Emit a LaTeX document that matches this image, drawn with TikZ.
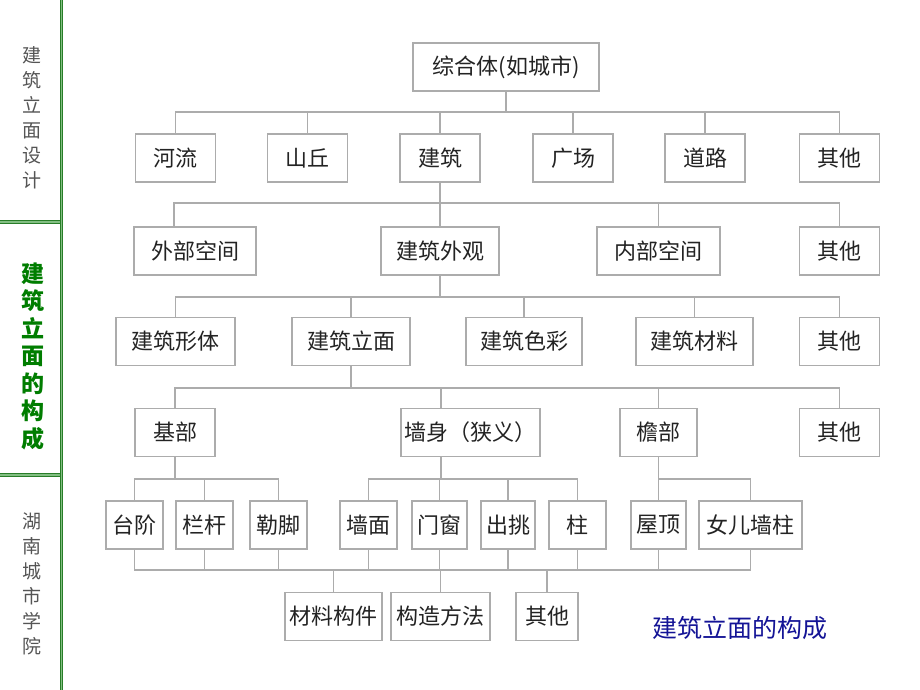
\documentclass[tikz,border=0pt]{standalone}
\usepackage{fontspec}
\newfontfamily\cjk{Noto Sans CJK SC}
\definecolor{boxline}{RGB}{172,172,172}
\definecolor{boxtext}{RGB}{35,35,35}
\definecolor{barline}{RGB}{40,125,40}
\definecolor{barfill}{RGB}{130,190,130}
\definecolor{bargreen}{RGB}{0,125,0}
\definecolor{sidegray}{RGB}{85,85,85}
\definecolor{titleblue}{RGB}{20,20,150}
\tikzset{
  box/.style={draw=boxline,line width=1.6pt,fill=white,text=boxtext,inner sep=0pt,
    minimum height=48,font=\cjk\fontsize{22}{22}\selectfont},
  link/.style={draw=boxline,line width=1.6pt},
  bar/.style={draw=barline,line width=1.1pt,double=barfill,double distance=1.2pt},
  side/.style={align=center,inner sep=0pt,text=sidegray,font=\cjk\fontsize{19}{25}\selectfont},
}
\begin{document}
\begin{tikzpicture}[x=1pt,y=-1pt]
      \useasboundingbox (0,0) rectangle (920,690);
      % side bar
      \draw[bar] (61.5,0) -- (61.5,690);
      \draw[bar] (0,222) -- (60,222);
      \draw[bar] (0,475) -- (60,475);
      \node[side] (sd1) at (32,117.5) {建\\筑\\立\\面\\设\\计};
      \node[side,text=bargreen,font=\cjk\bfseries\fontsize{23}{27.5}\selectfont] (sd2) at (33,356) {建\\筑\\立\\面\\的\\构\\成};
      \node[side] (sd3) at (32,583.5) {湖\\南\\城\\市\\学\\院};
      \draw
        (506,67) node[box,minimum width=186] (zh){综合体(如城市)}
        (175.5,158) node[box,minimum width=80] (hl){河流}
        (307.5,158) node[box,minimum width=80] (sq){山丘}
        (440,158) node[box,minimum width=80] (jz){建筑}
        (573,158) node[box,minimum width=80] (gc){广场}
        (705,158) node[box,minimum width=80] (dl){道路}
        (839.5,158) node[box,minimum width=80] (qt1){其他}
        (195,251) node[box,minimum width=122] (wbkj){外部空间}
        (440,251) node[box,minimum width=118] (jzwg){建筑外观}
        (658.5,251) node[box,minimum width=123] (nbkj){内部空间}
        (839.5,251) node[box,minimum width=80] (qt2){其他}
        (175.5,341.5) node[box,minimum width=119] (xt){建筑形体}
        (351,341.5) node[box,minimum width=118] (lm){建筑立面}
        (524,341.5) node[box,minimum width=116] (sc){建筑色彩}
        (694.5,341.5) node[box,minimum width=117] (cl){建筑材料}
        (839.5,341.5) node[box,minimum width=80] (qt3){其他}
        (175,432.5) node[box,minimum width=80] (jb){基部}
        (470.5,432.5) node[box,minimum width=139] (qs){墙身（狭义）}
        (658.5,432.5) node[box,minimum width=77] (yb){檐部}
        (839.5,432.5) node[box,minimum width=80] (qt4){其他}
        (134.5,525) node[box,minimum width=57] (tj){台阶}
        (204.5,525) node[box,minimum width=57] (lg){栏杆}
        (278.5,525) node[box,minimum width=57] (lj){勒脚}
        (368.5,525) node[box,minimum width=57] (qm){墙面}
        (439.5,525) node[box,minimum width=55] (mc){门窗}
        (508,525) node[box,minimum width=54] (ct){出挑}
        (577.5,525) node[box,minimum width=57] (zhu){柱}
        (658.5,525) node[box,minimum width=55] (wd){屋顶}
        (750.5,525) node[box,minimum width=103] (nr){女儿墙柱}
        (333.5,616.5) node[box,minimum width=97] (clgj){材料构件}
        (440.5,616.5) node[box,minimum width=99] (gzff){构造方法}
        (547,616.5) node[box,minimum width=62] (qt5){其他};
      \node[text=titleblue,font=\cjk\fontsize{25}{25}\selectfont] (bt) at (739.5,628) {建筑立面的构成};
      \begin{scope}[link]
        \draw (zh) -- (zh.south |- 0,112);
        \draw (hl) |- (qt1.north |- 0,112) -- (qt1);
        \foreach \n in {sq,jz,gc,dl} \draw (\n) -- (\n.north |- 0,112);
        \draw (jz) -- (jz.south |- 0,203);
        \draw ([xshift=-21]wbkj.north) |- (qt2.north |- 0,203) -- (qt2);
        \foreach \n in {jzwg,nbkj} \draw (\n) -- (\n.north |- 0,203);
        \draw (jzwg) -- (jzwg.south |- 0,297);
        \draw (xt) |- (qt3.north |- 0,297) -- (qt3);
        \foreach \n in {lm,sc,cl} \draw (\n) -- (\n.north |- 0,297);
        \draw (lm) -- (lm.south |- 0,388);
        \draw (jb) |- (qt4.north |- 0,388) -- (qt4);
        \draw ([xshift=-29.5]qs.north) -- ([xshift=-29.5]qs.north |- 0,388);
        \draw (yb) -- (yb.north |- 0,388);
        \draw (jb) -- (jb.south |- 0,479);
        \draw (tj) |- (lj.north |- 0,479) -- (lj);
        \draw (lg) -- (lg.north |- 0,479);
        \draw ([xshift=-29.5]qs.south) -- ([xshift=-29.5]qs.south |- 0,479);
        \draw (qm) |- (zhu.north |- 0,479) -- (zhu);
        \foreach \n in {mc,ct} \draw (\n) -- (\n.north |- 0,479);
        \draw (yb) -- (yb.south |- 0,479);
        \draw (wd) |- (nr.north |- 0,479) -- (nr);
        \draw (tj) |- (nr.south |- 0,570) -- (nr);
        \foreach \n in {lg,lj,qm,mc,ct,zhu,wd} \draw (\n) -- (\n.south |- 0,570);
        \foreach \n in {clgj,gzff,qt5} \draw (\n) -- (\n.north |- 0,570);
      \end{scope}
    \end{tikzpicture}
\end{document}
